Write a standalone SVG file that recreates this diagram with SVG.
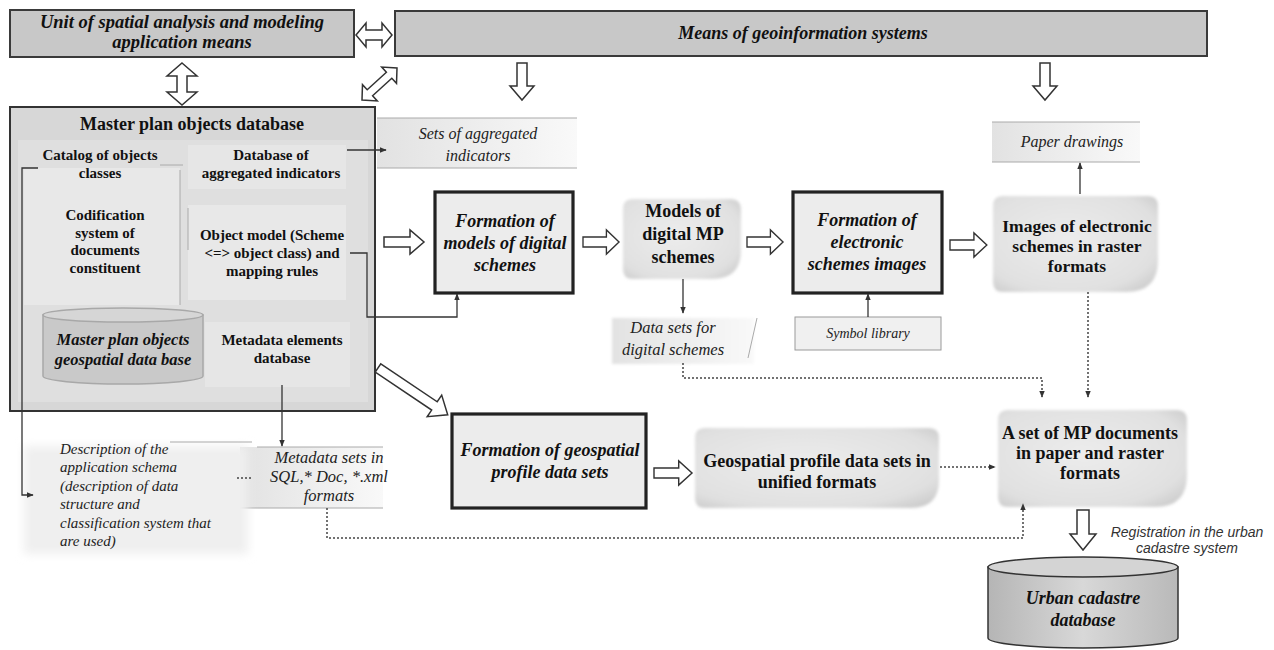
<svg xmlns="http://www.w3.org/2000/svg" width="1274" height="650" viewBox="0 0 1274 650">
<style>
  .hdr{fill:#c8c8c8;stroke:#3a3a3a;stroke-width:2}
  .proc{fill:#ececec;stroke:#222;stroke-width:3.2}
  .fat{fill:#fff;stroke:#333;stroke-width:1.5;stroke-linejoin:miter}
  .ln{fill:none;stroke:#333;stroke-width:1.3}
  .dot{fill:none;stroke:#444;stroke-width:1.5;stroke-dasharray:2 2}
  .thin{fill:none;stroke:#aaa;stroke-width:1}
  .bi{font-family:"Liberation Serif",serif;font-weight:bold;font-style:italic;fill:#111;text-anchor:middle}
  .b{font-family:"Liberation Serif",serif;font-weight:bold;fill:#111;text-anchor:middle}
  .i{font-family:"Liberation Serif",serif;font-style:italic;fill:#222;text-anchor:middle}
  .il{font-family:"Liberation Serif",serif;font-style:italic;fill:#222;font-size:15px}
  .si{font-family:"Liberation Sans",sans-serif;font-style:italic;fill:#333;text-anchor:middle;font-size:14px}
</style>
<defs>
  <marker id="ah" viewBox="0 0 10 10" refX="9" refY="5" markerWidth="7" markerHeight="7" orient="auto" markerUnits="userSpaceOnUse">
    <path d="M0,1 L10,5 L0,9 Z" fill="#333"/>
  </marker>
  <filter id="soft" x="-10%" y="-20%" width="120%" height="140%"><feGaussianBlur stdDeviation="1.6"/></filter>
  <filter id="haze" x="-10%" y="-10%" width="120%" height="120%"><feGaussianBlur stdDeviation="5"/></filter>
  <linearGradient id="lab" x1="0" y1="0" x2="1" y2="0">
    <stop offset="0" stop-color="#e2e2e2"/><stop offset="1" stop-color="#f9f9f9"/>
  </linearGradient>
  <radialGradient id="blob" cx="0.45" cy="0.45" r="0.7">
    <stop offset="0" stop-color="#ececec"/><stop offset="0.8" stop-color="#e0e0e0"/><stop offset="1" stop-color="#cdcdcd"/>
  </radialGradient>
  <linearGradient id="cyl" x1="0" y1="0" x2="1" y2="0">
    <stop offset="0" stop-color="#b5b5b5"/><stop offset="0.5" stop-color="#d8d8d8"/><stop offset="1" stop-color="#b9b9b9"/>
  </linearGradient>
  <path id="farR" d="M0,-5 H26 V-12 L40,0 L26,12 V5 H0 Z"/>
</defs>
<rect width="1274" height="650" fill="#fff"/>

<!-- Header boxes -->
<g id="unit">
  <rect class="hdr" x="10" y="10" width="344" height="47"/>
  <text class="bi" x="182" y="28" font-size="18.5">Unit of spatial analysis and modeling</text>
  <text class="bi" x="182" y="48" font-size="18.5">application means</text>
</g>
<g id="means">
  <rect class="hdr" x="395" y="11" width="812" height="45"/>
  <text class="bi" x="803" y="39" font-size="18">Means of geoinformation systems</text>
</g>

<!-- Master plan objects database -->
<g id="master">
  <rect x="10" y="107" width="365" height="304" fill="#d7d7d7" stroke="#333" stroke-width="2"/>
  <rect x="18" y="140" width="350" height="262" fill="#dfdfdf"/>
  <rect x="24" y="168" width="156" height="137" fill="#e8e8e8"/>
  <rect x="188" y="145" width="158" height="44" fill="#e6e6e6"/>
  <rect x="188" y="205" width="158" height="95" fill="#e8e8e8"/>
  <rect x="205" y="322" width="145" height="65" fill="#e6e6e6"/>
  <text class="b" x="192" y="130" font-size="18">Master plan objects database</text>
  <text class="b" x="100" y="160" font-size="15">Catalog of objects</text>
  <text class="b" x="100" y="178" font-size="15">classes</text>
  <text class="b" x="271" y="160" font-size="15">Database of</text>
  <text class="b" x="271" y="178" font-size="15">aggregated indicators</text>
  <text class="b" x="105" y="220" font-size="15">Codification</text>
  <text class="b" x="105" y="238" font-size="15">system of</text>
  <text class="b" x="105" y="255" font-size="15">documents</text>
  <text class="b" x="105" y="273" font-size="15">constituent</text>
  <text class="b" x="272" y="240" font-size="15">Object model (Scheme</text>
  <text class="b" x="272" y="258" font-size="15">&lt;=&gt; object class) and</text>
  <text class="b" x="272" y="276" font-size="15">mapping rules</text>
  <text class="b" x="282" y="345" font-size="15">Metadata elements</text>
  <text class="b" x="282" y="363" font-size="15">database</text>
  <path class="thin" d="M160,165 H183 M180,170 V305 M188,208 V250"/>
</g>
<g id="geodb">
  <path d="M43,315 V376 A80,8 0 0 0 203,376 V315 Z" fill="#c9c9c9" stroke="#a8a8a8" stroke-width="1.5"/>
  <ellipse cx="123" cy="315" rx="80" ry="7" fill="#d6d6d6" stroke="#a8a8a8" stroke-width="1.5"/>
  <text class="bi" x="123" y="345" font-size="16.5">Master plan objects</text>
  <text class="bi" x="123" y="365" font-size="16.5">geospatial data base</text>
</g>

<!-- Label areas -->
<g id="sets-agg">
  <rect x="377" y="118" width="200" height="50" fill="url(#lab)"/>
  <path class="thin" d="M377,118 H577 M377,168 H577"/>
  <text class="i" x="478" y="139" font-size="16">Sets of aggregated</text>
  <text class="i" x="478" y="161" font-size="16">indicators</text>
</g>
<g id="paper">
  <rect x="992" y="122" width="148" height="40" fill="url(#lab)"/>
  <path class="thin" d="M992,122 H1140 M992,162 H1140"/>
  <text class="i" x="1072" y="147" font-size="16">Paper drawings</text>
</g>
<g id="datasets">
  <rect x="612" y="318" width="142" height="46" fill="url(#lab)" filter="url(#soft)"/>
  <path class="thin" d="M757,318 L748,358"/>
  <text class="i" x="673" y="333" font-size="16.5">Data sets for</text>
  <text class="i" x="673" y="355" font-size="16.5">digital schemes</text>
</g>
<g id="symbol">
  <rect x="795" y="317" width="146" height="33" fill="#f0f0f0" stroke="#9a9a9a" stroke-width="1"/>
  <text class="i" x="868" y="338" font-size="14">Symbol library</text>
</g>
<g id="metasets">
  <rect x="240" y="447" width="143" height="61" fill="url(#lab)"/>
  <path class="thin" d="M257,447 H383 M240,508 H383"/>
  <text class="i" x="329" y="463" font-size="16.5">Metadata sets in</text>
  <text class="i" x="329" y="482" font-size="16.5">SQL,* Doc, *.xml</text>
  <text class="i" x="329" y="501" font-size="16.5">formats</text>
</g>
<g id="descr">
  <rect x="24" y="446" width="224" height="108" fill="#efefef" filter="url(#haze)"/>
  <path class="thin" d="M170,442 H252"/>
  <text class="il" x="60" y="454">Description of the</text>
  <text class="il" x="60" y="472">application schema</text>
  <text class="il" x="60" y="491">(description of data</text>
  <text class="il" x="60" y="509">structure and</text>
  <text class="il" x="60" y="528">classification system that</text>
  <text class="il" x="60" y="546">are used)</text>
</g>

<!-- Process boxes -->
<g id="form-models">
  <rect class="proc" x="435" y="192" width="138" height="101"/>
  <text class="bi" x="505" y="227" font-size="18">Formation of</text>
  <text class="bi" x="505" y="249" font-size="18">models of digital</text>
  <text class="bi" x="505" y="271" font-size="18">schemes</text>
</g>
<g id="form-elec">
  <rect class="proc" x="793" y="192" width="149" height="101"/>
  <text class="bi" x="867" y="226" font-size="18">Formation of</text>
  <text class="bi" x="867" y="248" font-size="18">electronic</text>
  <text class="bi" x="867" y="270" font-size="18">schemes images</text>
</g>
<g id="form-geo">
  <rect class="proc" x="452" y="414" width="194" height="94"/>
  <text class="bi" x="550" y="456" font-size="18">Formation of geospatial</text>
  <text class="bi" x="550" y="478" font-size="18">profile data sets</text>
</g>

<!-- Blobs -->
<g id="models">
  <path d="M633,199 H730 Q741,199 741,210 V250 Q741,279 712,279 H633 Q623,279 623,269 V209 Q623,199 633,199 Z" fill="url(#blob)" filter="url(#soft)"/>
  <text class="b" x="683" y="217" font-size="18">Models of</text>
  <text class="b" x="683" y="240" font-size="18">digital MP</text>
  <text class="b" x="683" y="263" font-size="18">schemes</text>
</g>
<g id="images">
  <path d="M1003,196 H1148 Q1158,196 1158,206 V260 Q1158,292 1126,292 H1003 Q993,292 993,282 V206 Q993,196 1003,196 Z" fill="url(#blob)" filter="url(#soft)"/>
  <text class="b" x="1077" y="232" font-size="17.5">Images of electronic</text>
  <text class="b" x="1077" y="252" font-size="17.5">schemes in raster</text>
  <text class="b" x="1077" y="272" font-size="17.5">formats</text>
</g>
<g id="geoprofile">
  <path d="M705,428 H929 Q939,428 939,438 V480 Q939,508 911,508 H705 Q695,508 695,498 V438 Q695,428 705,428 Z" fill="url(#blob)" filter="url(#soft)"/>
  <text class="b" x="817" y="467" font-size="18">Geospatial profile data sets in</text>
  <text class="b" x="817" y="488" font-size="18">unified formats</text>
</g>
<g id="mpdocs">
  <path d="M1008,410 H1177 Q1187,410 1187,420 V475 Q1187,507 1155,507 H1008 Q998,507 998,497 V420 Q998,410 1008,410 Z" fill="url(#blob)" filter="url(#soft)"/>
  <text class="b" x="1090" y="439" font-size="18">A set of MP documents</text>
  <text class="b" x="1090" y="459" font-size="18">in paper and raster</text>
  <text class="b" x="1090" y="479" font-size="18">formats</text>
</g>
<g id="cadastre">
  <path d="M988,567 V638 A95,10 0 0 0 1178,638 V567 Z" fill="url(#cyl)" stroke="#333" stroke-width="1.5"/>
  <ellipse cx="1083" cy="567" rx="95" ry="10" fill="#d4d4d4" stroke="#333" stroke-width="1.5"/>
  <text class="bi" x="1083" y="604" font-size="18">Urban cadastre</text>
  <text class="bi" x="1083" y="626" font-size="18">database</text>
</g>
<g id="registration">
  <text class="si" x="1187" y="537">Registration in the urban</text>
  <text class="si" x="1187" y="553">cadastre system</text>
</g>

<!-- Connectors -->
<g id="connectors">
  <path class="fat" d="M356,35 L366,23 V30 H382 V23 L392,35 L382,47 V40 H366 V47 Z"/>
  <path class="fat" d="M182,63 L197,76 H187 V92 H197 L182,105 L167,92 H177 V76 H167 Z"/>
  <path class="fat" transform="translate(379.5,84) rotate(-42.4)" d="M-23.7,0 L-13,-11 V-4 H13 V-11 L23.7,0 L13,11 V4 H-13 V11 Z"/>
  <path class="fat" transform="translate(522,63)" d="M-5,0 V23 H-12 L0,37 L12,23 H5 V0 Z"/>
  <path class="fat" transform="translate(1045,63)" d="M-5,0 V23 H-12 L0,37 L12,23 H5 V0 Z"/>
  <use href="#farR" class="fat" transform="translate(384,242)"/>
  <use href="#farR" class="fat" transform="translate(583,242) scale(0.9,1)"/>
  <use href="#farR" class="fat" transform="translate(747,242) scale(0.9,1)"/>
  <use href="#farR" class="fat" transform="translate(950,245) scale(0.92,1)"/>
  <use href="#farR" class="fat" transform="translate(654,473) scale(0.95,1)"/>
  <path class="fat" transform="translate(378,368) rotate(33.9)" d="M0,-5 H68 V-13 L84,0 L68,13 V5 H0 Z"/>
  <path class="fat" transform="translate(1083,510)" d="M-6,0 V24 H-13 L0,40 L13,24 H6 V0 Z"/>
  <path class="ln" d="M347,150 H386" marker-end="url(#ah)"/>
  <path class="ln" d="M350,253 H367 V317 H457 V294" marker-end="url(#ah)"/>
  <path class="ln" d="M683,279 V313" marker-end="url(#ah)"/>
  <path class="ln" d="M868,317 V294" marker-end="url(#ah)"/>
  <path class="ln" d="M1080,194 V163" marker-end="url(#ah)"/>
  <path class="ln" d="M282,385 V446" marker-end="url(#ah)"/>
  <path class="ln" d="M38,168 H22 V495 H33" marker-end="url(#ah)"/>
  <path class="dot" d="M683,363 V378 H1042 V397" marker-end="url(#ah)"/>
  <path class="dot" d="M1088,292 V397" marker-end="url(#ah)"/>
  <path class="dot" d="M940,467 H995" marker-end="url(#ah)"/>
  <path class="dot" d="M327,508 V538 H1023 V504" marker-end="url(#ah)"/>
  <path class="dot" d="M237,478 H252"/>
</g>
</svg>
